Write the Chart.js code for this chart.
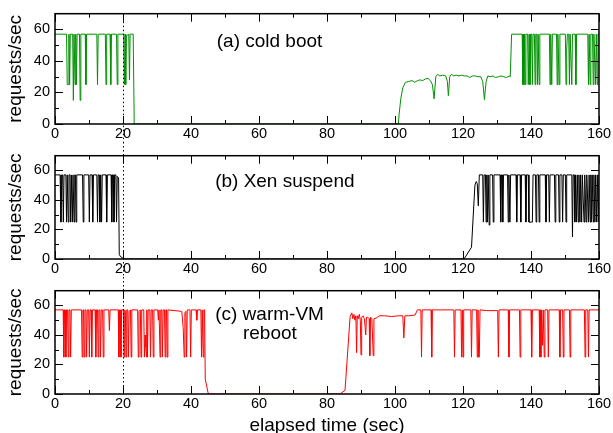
<!DOCTYPE html>
<html><head><meta charset="utf-8">
<script src="https://cdn.jsdelivr.net/npm/chart.js@4"></script>
<style>
html,body{margin:0;padding:0;background:#fff;}
#wrap{position:relative;width:613px;height:433px;overflow:hidden;}
canvas{position:absolute;left:0;}
</style></head><body>
<div id="wrap">
<canvas id="ca" width="613" height="142" style="top:0px"></canvas>
<canvas id="cb" width="613" height="135" style="top:142px"></canvas>
<canvas id="cc" width="613" height="156" style="top:277px"></canvas>
</div>
<script>
const xTickValues = [0,20,40,60,80,100,120,140,160];
const xMinorValues = [10,30,50,70,90,110,130,150];
const yTickValues = [0,20,40,60];
const yMinorValues = [10,30,50];
const markerTime = 20;
const xAxisTitle = 'elapsed time (sec)';
const yAxisTitle = 'requests/sec';

// (a) cold boot
const coldBootTime = [
0,3.4,3.6,3.9,4.1,4.3,4.5,5.2,5.4,5.6,
5.9,6.1,6.3,6.5,7.2,7.4,7.6,8.9,9.1,9.3,
12.3,12.5,12.7,14.8,15.0,15.2,16.2,16.4,16.6,18.1,
18.3,18.5,20.2,20.4,20.6,20.8,21.0,21.7,21.9,22.1,
23.0,23.3,
101.0,101.2,101.7,102.3,103.1,104.0,105.0,105.8,106.6,107.4,
108.1,108.9,109.7,110.4,111.0,111.5,112.0,112.5,113.2,114.0,
114.9,115.4,115.7,116.1,116.6,117.3,118.0,118.8,119.6,120.4,
121.2,122.0,122.8,123.6,124.4,125.2,125.8,126.3,126.8,127.3,
128.0,128.8,129.6,130.4,131.2,132.0,132.8,133.6,133.9,134.3,
137.4,137.6,137.75,137.9,138.1,138.3,138.5,139.0,139.2,139.45,
139.7,139.9,140.2,140.4,140.6,141.0,141.2,141.4,141.7,141.9,
142.1,142.4,142.6,145.4,145.6,145.8,146.1,146.3,147.5,147.7,
147.9,148.3,148.5,150.1,150.3,150.5,150.7,151.1,151.3,151.5,
152.0,152.2,153.0,153.2,153.4,156.7,156.9,157.1,157.4,157.6,
158.1,158.3,158.5,159.0,159.2,159.5,159.7,160];
const coldBootRate = [
57,57,25,25,57,25,57,57,15,57,
25,57,25,57,57,15,57,57,25,57,
57,25,57,57,25,57,57,25,57,57,
25,57,57,25,57,25,56,57,28,57,
57,0,
0,6,16,23,26.5,27,27.5,26.5,27.5,28,
27.5,28.5,29,27.5,25,16,30,31.5,30.5,31,
30.5,27,18,30,31.5,30.5,31,30.5,31,30.5,
30.5,29.5,30.5,30.5,30,30,27,15.5,27,30.5,
30,30.5,29.5,30,30.5,30,29.5,30.5,30,57,
57,25,57,25,57,25,57,57,25,57,
25,57,57,25,57,57,25,57,57,25,
57,25,57,57,25,57,25,57,57,25,
57,25,57,57,25,47,57,57,25,57,
25,57,57,25,57,57,25,57,25,57,
57,25,57,25,57,25,57,57];

// (b) Xen suspend
const suspendTime = [
0,1.5,1.75,2.0,2.25,2.45,2.65,3.2,3.4,3.6,
3.9,4.1,4.4,4.6,4.8,5.1,5.3,5.6,5.8,6.0,
6.2,6.4,8.1,8.3,8.5,9.9,10.1,10.3,10.9,11.1,
11.3,12.3,12.5,12.7,13.0,13.2,13.45,13.7,13.9,15.0,
15.2,15.4,16.5,16.7,16.9,17.15,17.35,17.55,17.9,18.1,
18.3,18.7,18.9,19.3,19.8,20.2,120.3,122.5,123.5,123.9,
124.2,124.5,124.8,125.8,126.0,126.2,126.6,126.8,127.0,127.2,
127.4,127.7,127.9,128.7,128.9,129.1,130.9,131.1,131.3,131.5,
131.7,131.9,133.1,133.3,133.5,133.8,134.0,135.6,135.8,136.0,
136.8,137.0,137.2,138.3,138.5,138.7,139.2,139.4,140.4,140.6,
141.3,141.5,141.7,142.2,142.4,142.6,144.2,144.4,144.6,145.2,
145.4,145.6,146.9,147.1,147.3,148.1,148.3,148.5,149.1,149.3,
149.5,150.1,150.3,150.5,152.0,152.2,152.4,152.7,152.9,153.1,
153.4,153.6,153.9,154.1,154.4,154.6,154.9,155.1,155.6,155.8,
156.2,156.4,156.9,157.1,157.4,157.6,157.8,158.0,158.3,158.5,
158.8,159.0,159.3,159.5,159.8,160];
const suspendRate = [
57,57,25,57,57,25,57,57,25,57,
25,57,57,25,57,25,57,25,57,57,
25,57,57,25,57,57,25,57,57,25,
57,57,25,57,57,25,57,25,57,57,
25,57,57,25,57,57,25,57,57,25,
56,55,3,1.5,1,0,0,8,50,52.5,
51,36,57,57,25,57,57,25,57,25,
57,23,57,57,25,57,57,25,57,57,
25,57,57,25,57,25,57,57,25,57,
57,25,57,57,25,57,57,25,25,57,
57,25,57,57,25,57,57,25,57,57,
25,57,57,25,57,57,25,57,57,25,
57,57,25,57,57,15,57,57,25,57,
25,57,25,57,25,57,25,57,25,57,
25,57,25,57,25,57,25,57,25,57,
25,57,25,57,25,57];

// (c) warm-VM reboot
const warmRebootTime = [
0,2.4,2.6,2.8,3.0,3.2,3.4,3.7,3.9,4.1,
4.4,4.6,4.8,7.8,8.0,8.2,8.4,8.6,8.8,9.1,
9.3,9.5,9.9,10.1,10.3,10.6,10.8,11.0,11.8,12.0,
12.2,12.5,12.7,12.9,13.2,13.4,13.6,14.0,14.2,14.4,
15.8,16.0,16.2,18.6,18.8,19.0,19.2,19.4,19.6,20.1,
20.3,20.5,20.7,20.9,21.1,21.4,21.6,21.8,22.2,22.4,
22.6,24.3,24.5,24.7,25.1,25.3,25.5,26.1,26.3,26.5,
26.7,26.9,27.0,27.2,27.4,27.9,28.1,28.3,28.7,28.9,
29.1,30.2,30.4,30.6,30.9,31.1,31.4,31.6,31.8,32.2,
32.4,32.6,32.8,33.0,33.2,37.3,37.7,38.0,38.2,38.5,
38.7,38.9,39.7,39.9,40.1,41.5,41.7,41.9,42.9,43.1,
43.3,43.6,43.8,44.0,44.2,45.1,83.8,85.3,86.8,87.3,
87.6,87.9,88.2,88.5,88.7,88.9,89.2,89.5,89.8,90.0,
90.2,90.6,91.0,91.4,91.6,92.0,92.4,92.6,92.8,93.2,
93.6,93.8,94.5,95.4,97,99,101,102.3,102.6,102.9,
104,105.9,106.6,107.6,107.8,108.0,110.6,110.8,111.0,117.3,
117.5,117.7,119.4,119.6,119.8,120.0,120.2,122.3,122.5,122.7,
124.0,124.2,124.4,124.6,124.8,125.0,127,130.2,130.4,130.6,
133.3,133.5,133.7,136.6,136.8,137.0,140.0,140.2,140.4,142.4,
142.6,142.8,142.9,143.1,143.4,143.6,143.9,144.1,144.9,145.1,
145.3,148.3,148.5,148.7,149.3,149.5,149.7,151.3,151.5,151.7,
155.7,155.9,156.1,156.7,156.9,157.1,160];
const warmRebootRate = [
57,57,25,57,57,25,57,57,25,57,
57,25,57,57,25,57,57,25,57,57,
25,57,57,25,57,57,25,57,57,25,
57,57,25,57,57,25,57,57,25,57,
57,43,57,57,25,57,57,25,57,57,
25,57,56,25,57,57,25,56,57,25,
57,57,25,56,57,25,57,57,25,40,
32,25,57,25,57,57,25,57,57,25,
57,57,50,57,25,57,57,25,57,57,
25,57,57,25,57,56,45,25,55,56,
25,57,57,25,57,57,50,57,57,25,
57,25,57,57,10,0,0,2.5,52.5,55,
51,54,50,53,28,53,51,54,50,26.5,
52,53,51,40,52,52,51,26,52,51,
26,51,51.5,53,53,52.5,53,53,38,53,
53,53.5,57,57,25,57,57,25,57,57,
25,57,57,25,57,25,57,57,25,57,
57,25,57,25,25,57,56.5,56.5,25,57,
57,25,57,57,25,57,57,25,57,57,
25,57,25,57,33,57,25,57,57,25,
57,57,25,57,57,25,57,57,25,57,
57,25,57,57,25,57,57];

const FONT = "'Liberation Sans', Arial, Helvetica, sans-serif";

function xyPoints(times, rates) {
  return times.map((t, i) => ({x: t, y: rates[i]}));
}

function decor(cfg) {
  return {
    id: 'panelDecor',
    afterDatasetsDraw(chart) {
      const {ctx, chartArea: a, scales: {x, y}} = chart;
      ctx.save();
      ctx.strokeStyle = '#000';
      ctx.lineWidth = 1;
      ctx.beginPath();
      const xt = (v, len) => {
        const p = Math.round(x.getPixelForValue(v)) + 0.5;
        ctx.moveTo(p, a.bottom); ctx.lineTo(p, a.bottom - len);
        ctx.moveTo(p, a.top); ctx.lineTo(p, a.top + len);
      };
      const yt = (v, len) => {
        const p = Math.round(y.getPixelForValue(v)) + 0.5;
        ctx.moveTo(a.left, p); ctx.lineTo(a.left + len, p);
        ctx.moveTo(a.right, p); ctx.lineTo(a.right - len, p);
      };
      xTickValues.forEach(v => xt(v, 8));
      xMinorValues.forEach(v => xt(v, 4));
      yTickValues.forEach(v => yt(v, 8));
      yMinorValues.forEach(v => yt(v, 4));
      ctx.stroke();
      ctx.lineWidth = 1.5;
      ctx.strokeRect(a.left, a.top, a.right - a.left, a.bottom - a.top);
      // dotted marker line
      const px = Math.round(x.getPixelForValue(markerTime)) + 0.5;
      ctx.lineWidth = 1;
      ctx.setLineDash([1.5, 2.5]);
      ctx.beginPath();
      ctx.moveTo(px, cfg.lineFromTop ? 0 : a.top);
      ctx.lineTo(px, cfg.lineToBottom ? chart.height : a.bottom);
      ctx.stroke();
      ctx.setLineDash([]);
      ctx.fillStyle = '#000';
      ctx.font = '19px ' + FONT;
      ctx.textAlign = 'center';
      ctx.textBaseline = 'middle';
      cfg.notes.forEach(n => ctx.fillText(n.text, x.getPixelForValue(n.x), y.getPixelForValue(n.y)));
      ctx.restore();
    }
  };
}

function makePanel(id, times, rates, color, cfg) {
  return new Chart(document.getElementById(id), {
    type: 'line',
    data: { datasets: [{ data: xyPoints(times, rates), borderColor: color, borderWidth: 1, pointRadius: 0, tension: 0, fill: false }] },
    options: {
      responsive: false, animation: false, devicePixelRatio: 1,
      layout: { padding: { top: cfg.padTop, left: 0, right: 14, bottom: 0 } },
      plugins: { legend: { display: false }, tooltip: { enabled: false } },
      scales: {
        x: {
          type: 'linear', min: 0, max: 160,
          grid: { display: false, drawTicks: false, tickLength: 0 }, border: { display: false },
          afterBuildTicks: s => { s.ticks = xTickValues.map(v => ({value: v})); },
          afterFit: s => { s.height = cfg.xAxisHeight; },
          ticks: { font: { family: FONT, size: 14.5 }, color: '#000', padding: 1, maxRotation: 0, autoSkip: false },
          title: cfg.xTitle ? { display: true, text: xAxisTitle, color: '#000', font: { family: FONT, size: 19, lineHeight: 0.8 }, padding: 0 } : { display: false }
        },
        y: {
          type: 'linear', min: 0, max: 70,
          grid: { display: false, drawTicks: false, tickLength: 0 }, border: { display: false },
          afterBuildTicks: s => { s.ticks = yTickValues.map(v => ({value: v})); },
          afterFit: s => { s.width = 55; },
          ticks: { font: { family: FONT, size: 14.5 }, color: '#000', padding: 5 },
          title: { display: true, text: yAxisTitle, color: '#000', font: { family: FONT, size: 19 }, padding: { top: 4.6, bottom: 0 } }
        }
      }
    },
    plugins: [decor(cfg)]
  });
}

makePanel('ca', coldBootTime, coldBootRate, 'rgb(0,145,0)', {
  padTop: 12, xAxisHeight: 18, xTitle: false, lineFromTop: false, lineToBottom: true,
  notes: [{ text: '(a) cold boot', x: 63.1, y: 52 }]
});
makePanel('cb', suspendTime, suspendRate, '#000000', {
  padTop: 5, xAxisHeight: 18, xTitle: false, lineFromTop: true, lineToBottom: true,
  notes: [{ text: '(b) Xen suspend', x: 67.6, y: 52 }]
});
makePanel('cc', warmRebootTime, warmRebootRate, '#ff0000', {
  padTop: 5, xAxisHeight: 39, xTitle: true, lineFromTop: true, lineToBottom: false,
  notes: [{ text: '(c) warm-VM', x: 63.1, y: 53.4 }, { text: 'reboot', x: 63.2, y: 40.9 }]
});
</script>
</body></html>
